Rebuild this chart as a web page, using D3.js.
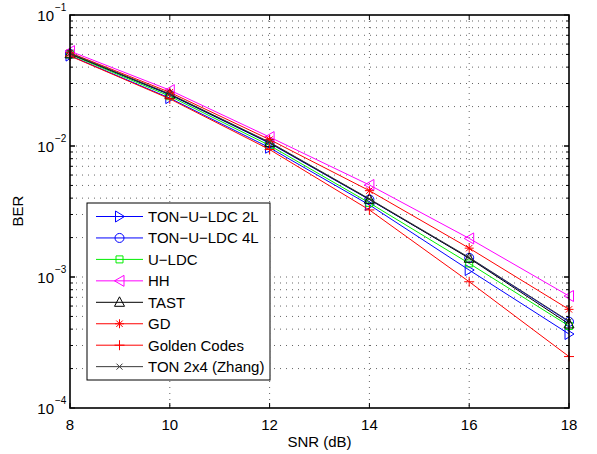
<!DOCTYPE html>
<html><head><meta charset="utf-8">
<script src="https://cdn.jsdelivr.net/npm/d3@7"></script>
<style>
body{margin:0;background:#fff;}
svg{display:block;font-family:"Liberation Sans",Arial,Helvetica,sans-serif;}
</style></head>
<body><svg id="c" width="597" height="454"></svg>
<script>
const snr = [8, 10, 12, 14, 16, 18];
const tonUldc2L = [0.0490, 0.0232, 0.0097, 0.00355, 0.00113, 0.000367];
const tonUldc4L = [0.0505, 0.0246, 0.0105, 0.00390, 0.00140, 0.000455];
const uLdc      = [0.0500, 0.0240, 0.0101, 0.00368, 0.00127, 0.000423];
const hh        = [0.0530, 0.0267, 0.0117, 0.00504, 0.00197, 0.000716];
const tast      = [0.0505, 0.0248, 0.0106, 0.00392, 0.00139, 0.000438];
const gd        = [0.0515, 0.0257, 0.0112, 0.00456, 0.00166, 0.000566];
const golden    = [0.0487, 0.0229, 0.0094, 0.00325, 0.00092, 0.000247];
const ton2x4    = [0.0510, 0.0250, 0.0107, 0.00395, 0.00141, 0.000460];
const seriesNames = ["TON\u2212U\u2212LDC 2L", "TON\u2212U\u2212LDC 4L", "U\u2212LDC", "HH", "TAST", "GD", "Golden Codes", "TON 2x4 (Zhang)"];
const xTicks = [8, 10, 12, 14, 16, 18];
const yDecades = [-1, -2, -3, -4];

const seriesData = [tonUldc2L, tonUldc4L, uLdc, hh, tast, gd, golden, ton2x4];
const styles = [
  {color:"#0000ff", marker:"triR"},
  {color:"#0000ff", marker:"circle"},
  {color:"#00ee00", marker:"square"},
  {color:"#ff00ff", marker:"triL"},
  {color:"#000000", marker:"triU"},
  {color:"#ff0000", marker:"star"},
  {color:"#ff0000", marker:"plus"},
  {color:"#3a3a3a", marker:"x"}
];

const svg = d3.select("#c");
const L = 70, R = 569, T = 15, B = 408;
const x = d3.scaleLinear().domain([8, 18]).range([L, R]);
const y = d3.scaleLog().domain([1e-4, 1e-1]).range([B, T]);

// grid
const grid = svg.append("g");
const minorVals = [];
for (let e = -4; e < -1; e++) for (let m = 1; m <= 9; m++) { const v = m * Math.pow(10, e); if (v > 1e-4 && v < 1e-1) minorVals.push(v); }
minorVals.forEach(v => grid.append("line").attr("x1", L).attr("x2", R).attr("y1", y(v)).attr("y2", y(v))
  .attr("stroke", "#666").attr("stroke-width", 1).attr("stroke-dasharray", "1,5"));
xTicks.slice(1, -1).forEach(v => grid.append("line").attr("x1", x(v)).attr("x2", x(v)).attr("y1", T).attr("y2", B)
  .attr("stroke", "#666").attr("stroke-width", 1).attr("stroke-dasharray", "1,5"));

// ticks (inside)
const tk = svg.append("g").attr("stroke", "#000").attr("stroke-width", 1);
xTicks.forEach(v => {
  tk.append("line").attr("x1", x(v)).attr("x2", x(v)).attr("y1", B).attr("y2", B - 5);
  tk.append("line").attr("x1", x(v)).attr("x2", x(v)).attr("y1", T).attr("y2", T + 5);
});
minorVals.concat(yDecades.map(d => Math.pow(10, d))).forEach(v => {
  const major = Math.abs(Math.log10(v) - Math.round(Math.log10(v))) < 1e-9;
  const len = major ? 5 : 3;
  tk.append("line").attr("x1", L).attr("x2", L + len).attr("y1", y(v)).attr("y2", y(v));
  tk.append("line").attr("x1", R).attr("x2", R - len).attr("y1", y(v)).attr("y2", y(v));
});

// marker paths
function markerPath(type) {
  switch (type) {
    case "triR": return "M-4,-5.5L5,0L-4,5.5Z";
    case "triL": return "M4.5,-5.5L-5,0L4.5,5.5Z";
    case "triU": return "M-5,4L0,-5.5L5,4Z";
    case "circle": return "M4.5,0A4.5,4.5 0 1,1 -4.5,0A4.5,4.5 0 1,1 4.5,0Z";
    case "square": return "M-3.5,-3.5H3.5V3.5H-3.5Z";
    case "star": return "M-4.5,0H4.5M0,-4.5V4.5M-3.2,-3.2L3.2,3.2M-3.2,3.2L3.2,-3.2";
    case "plus": return "M-5,0H5M0,-5V5";
    case "x": return "M-3,-3L3,3M-3,3L3,-3";
  }
}

const line = d3.line().x((d, i) => x(snr[i])).y(d => y(d));
const plot = svg.append("g");
seriesData.forEach((s, k) => {
  const st = styles[k];
  plot.append("path").attr("d", line(s)).attr("fill", "none").attr("stroke", st.color).attr("stroke-width", 1);
  s.forEach((v, i) => plot.append("path").attr("d", markerPath(st.marker))
    .attr("transform", `translate(${x(snr[i])},${y(v)})`)
    .attr("fill", "none").attr("stroke", st.color).attr("stroke-width", 1));
});

// frame
svg.append("rect").attr("x", L).attr("y", T).attr("width", R - L).attr("height", B - T)
  .attr("fill", "none").attr("stroke", "#000").attr("stroke-width", 1.6);

// tick labels
xTicks.forEach(v => svg.append("text").attr("x", x(v)).attr("y", 430).attr("text-anchor", "middle")
  .attr("font-size", 15).text(v));
yDecades.forEach(d => {
  svg.append("text").attr("x", 54).attr("y", y(Math.pow(10, d)) + 6).attr("text-anchor", "end").attr("font-size", 15).text("10");
  svg.append("text").attr("x", 55).attr("y", y(Math.pow(10, d)) - 4).attr("font-size", 10).text("\u2212" + (-d));
});

svg.append("text").attr("x", x(13)).attr("y", 447).attr("text-anchor", "middle").attr("font-size", 15).text("SNR (dB)");
svg.append("text").attr("transform", "translate(23,211) rotate(-90)").attr("text-anchor", "middle").attr("font-size", 15).text("BER");

// legend
const lg = svg.append("g");
const lgX = 87, lgY = 203, lgW = 183, lgH = 177;
lg.append("rect").attr("x", lgX).attr("y", lgY).attr("width", lgW).attr("height", lgH)
  .attr("fill", "#fff").attr("stroke", "#000").attr("stroke-width", 1);
seriesNames.forEach((n, k) => {
  const yy = 216.5 + k * 21.45;
  const st = styles[k];
  lg.append("line").attr("x1", 96).attr("x2", 143).attr("y1", yy).attr("y2", yy).attr("stroke", st.color).attr("stroke-width", 1);
  lg.append("path").attr("d", markerPath(st.marker)).attr("transform", `translate(119.5,${yy})`)
    .attr("fill", "none").attr("stroke", st.color).attr("stroke-width", 1);
  lg.append("text").attr("x", 148).attr("y", yy + 5.5).attr("font-size", 15).attr("fill", "#000").text(n);
});
</script></body></html>
